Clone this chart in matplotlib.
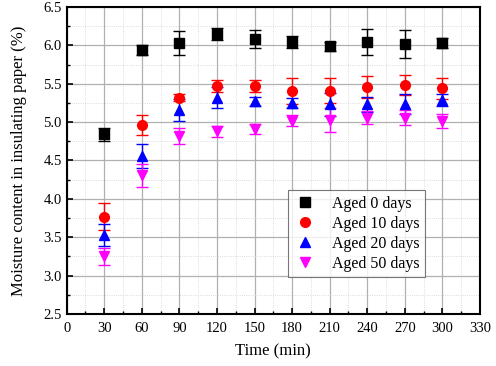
import matplotlib
matplotlib.use("Agg")
import matplotlib.pyplot as plt
from matplotlib.ticker import MultipleLocator, FormatStrFormatter
from matplotlib.lines import Line2D

plt.rcParams['font.family'] = ['Liberation Serif', 'DejaVu Serif']

time = [30, 60, 90, 120, 150, 180, 210, 240, 270, 300]
aged0 = [4.84, 5.94, 6.03, 6.15, 6.08, 6.04, 5.99, 6.04, 6.02, 6.03]
aged0_err = [0.08, 0.07, 0.16, 0.08, 0.12, 0.08, 0.06, 0.17, 0.18, 0.07]
aged10 = [3.77, 4.96, 5.32, 5.47, 5.47, 5.41, 5.41, 5.46, 5.48, 5.44]
aged10_err = [0.18, 0.13, 0.05, 0.08, 0.08, 0.17, 0.16, 0.14, 0.13, 0.14]
aged20 = [3.53, 4.56, 5.16, 5.32, 5.27, 5.25, 5.23, 5.23, 5.24, 5.29]
aged20_err = [0.14, 0.16, 0.14, 0.14, 0.06, 0.06, 0.15, 0.10, 0.13, 0.08]
aged50 = [3.25, 4.31, 4.82, 4.88, 4.91, 5.02, 5.03, 5.06, 5.06, 5.01]
aged50_err = [0.11, 0.15, 0.10, 0.07, 0.07, 0.07, 0.16, 0.09, 0.10, 0.09]
labels = ['Aged 0 days', 'Aged 10 days', 'Aged 20 days', 'Aged 50 days']

fig = plt.figure(figsize=(4.96, 3.66), dpi=100)
ax = fig.add_axes([66.7/496, 1 - 314/366, (480-66.7)/496, (314-7)/366])

series = [
    (aged0, aged0_err, 's', 'black', 6.5),
    (aged10, aged10_err, 'o', 'red', 7),
    (aged20, aged20_err, '^', 'blue', 7.5),
    (aged50, aged50_err, 'v', 'magenta', 7.5),
]
handles = []
for (vals, err, m, c, ms), lab in zip(series, labels):
    ax.errorbar(time, vals, yerr=err, fmt=m, color=c, ms=ms, ecolor=c,
                elinewidth=1, capsize=4.3, capthick=1, zorder=3)
    handles.append(Line2D([], [], linestyle='none', marker=m, color=c, ms=ms, label=lab))

ax.set_xlim(0, 330)
ax.set_ylim(2.5, 6.5)
ax.xaxis.set_major_locator(MultipleLocator(30))
ax.xaxis.set_minor_locator(MultipleLocator(15))
ax.yaxis.set_major_locator(MultipleLocator(0.5))
ax.yaxis.set_minor_locator(MultipleLocator(0.25))
ax.grid(which='major', color='#b0b0b0', linewidth=0.9, linestyle='-')
ax.grid(which='minor', color='#d0d0d0', linewidth=0.6, linestyle=':')
ax.set_axisbelow(True)
ax.tick_params(which='both', direction='in', top=False, right=False, labelsize=10.5)
ax.tick_params(which='major', length=4, width=1.2)
ax.tick_params(which='minor', length=2.5, width=1)
ax.tick_params(axis='x', which='major', pad=6)
for s in ax.spines.values():
    s.set_linewidth(1.5)
ax.set_xlabel('Time (min)', fontsize=12, labelpad=6)
ax.set_ylabel('Moisture content in insulating paper (%)', fontsize=12, labelpad=12)
ax.yaxis.set_major_formatter(FormatStrFormatter('%.1f'))

leg = ax.legend(handles=handles, loc='lower left', bbox_to_anchor=(0.535, 0.12), fontsize=11.5,
                frameon=True, fancybox=False, edgecolor='#555555',
                handletextpad=0.9, borderpad=0.35, labelspacing=0.25,
                handlelength=1.5, borderaxespad=0)
leg.get_frame().set_linewidth(0.8)

fig.savefig('out.png', dpi=100)
